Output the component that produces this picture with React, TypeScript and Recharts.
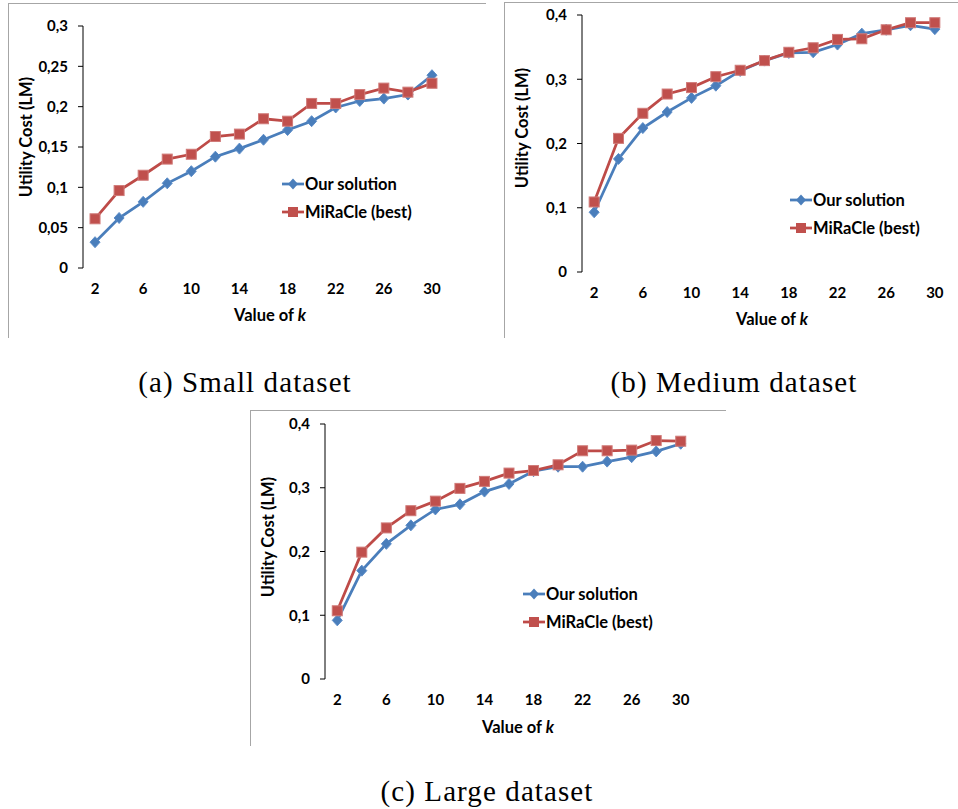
import React from "react";
import { Line, LineChart, XAxis, YAxis } from "recharts";

const kValues = [2, 4, 6, 8, 10, 12, 14, 16, 18, 20, 22, 24, 26, 28, 30];
const kLabelTicks = [2, 6, 10, 14, 18, 22, 26, 30];
const kMarkTicks = [1, 3, 5, 7, 9, 11, 13, 15, 17, 19, 21, 23, 25, 27, 29, 31];

const smallOurs = [0.032, 0.062, 0.082, 0.105, 0.12, 0.138, 0.148, 0.159, 0.171, 0.182, 0.199, 0.207, 0.21, 0.215, 0.239];
const smallMiracle = [0.061, 0.096, 0.115, 0.135, 0.141, 0.163, 0.166, 0.185, 0.182, 0.204, 0.204, 0.215, 0.223, 0.218, 0.229];

const mediumOurs = [0.093, 0.176, 0.224, 0.249, 0.271, 0.29, 0.313, 0.329, 0.341, 0.342, 0.354, 0.371, 0.377, 0.384, 0.378];
const mediumMiracle = [0.109, 0.208, 0.247, 0.277, 0.287, 0.304, 0.314, 0.329, 0.342, 0.349, 0.362, 0.363, 0.377, 0.388, 0.388];

const largeOurs = [0.092, 0.17, 0.212, 0.241, 0.266, 0.274, 0.294, 0.306, 0.326, 0.333, 0.333, 0.341, 0.348, 0.357, 0.369];
const largeMiracle = [0.107, 0.199, 0.237, 0.264, 0.279, 0.299, 0.31, 0.323, 0.327, 0.336, 0.358, 0.358, 0.359, 0.374, 0.373];

const smallYTicks = [0, 0.05, 0.1, 0.15, 0.2, 0.25, 0.3];
const bigYTicks = [0, 0.1, 0.2, 0.3, 0.4];

const BLUE = "#4A7EBB";
const RED = "#BE4B48";
const FONT = "Lato, 'Open Sans', sans-serif";

function formatComma(value: number) {
  return String(value).replace(".", ",");
}

function Diamond(props: any) {
  const { cx, cy, index } = props;
  if (cx == null || cy == null) return null;
  return (
    <path
      key={`dia-${index}`}
      d={`M${cx},${cy - 5.5}L${cx + 5},${cy}L${cx},${cy + 5.5}L${cx - 5},${cy}Z`}
      fill={BLUE}
      stroke="#5B8CC8"
      strokeWidth={1}
    />
  );
}

function Square(props: any) {
  const { cx, cy, index } = props;
  if (cx == null || cy == null) return null;
  return (
    <rect key={`sq-${index}`} x={cx - 5} y={cy - 5} width={10} height={10} fill="#C0504D" stroke="#D07A78" strokeWidth={1} />
  );
}

function LegendBox({ left, top }: { left: number; top: number }) {
  const row = (label: string, color: string, marker: "diamond" | "square") => (
    <div style={{ display: "flex", alignItems: "center", height: 28 }}>
      <svg width={22} height={14} style={{ display: "block" }}>
        <line x1={0} y1={7} x2={22} y2={7} stroke={color} strokeWidth={2.75} />
        {marker === "diamond" ? (
          <path d="M11,1.5L16,7L11,12.5L6,7Z" fill={BLUE} />
        ) : (
          <rect x={6} y={2} width={10} height={10} fill="#C0504D" />
        )}
      </svg>
      <span style={{ marginLeft: 1, fontFamily: FONT, fontWeight: 700, fontSize: 16.5, color: "#000", whiteSpace: "nowrap" }}>{label}</span>
    </div>
  );
  return (
    <div style={{ position: "absolute", left, top }}>
      {row("Our solution", BLUE, "diamond")}
      {row("MiRaCle (best)", RED, "square")}
    </div>
  );
}

type PanelProps = {
  left: number;
  top: number;
  width: number;
  height: number;
  margin: { top: number; right: number };
  yAxisWidth: number;
  xAxisHeight: number;
  yMax: number;
  yTicks: number[];
  ours: number[];
  miracle: number[];
  legendPos: { left: number; top: number };
  yLabelPos: { x: number; y: number };
  xLabelPos: { x: number; y: number };
};

function Panel(p: PanelProps) {
  const data = kValues.map((k, i) => ({ k, ours: p.ours[i], miracle: p.miracle[i] }));
  const tickStyle = { fill: "#000", fontFamily: FONT, fontWeight: 700, fontSize: 15 };
  return (
    <div style={{ position: "absolute", left: p.left, top: p.top, width: p.width, height: p.height }}>
      <LineChart width={p.width} height={p.height} data={data} margin={{ top: p.margin.top, right: p.margin.right, left: 0, bottom: 0 }}>
        <XAxis
          xAxisId="marks"
          dataKey="k"
          type="number"
          domain={[1, 31]}
          ticks={kMarkTicks}
          tick={false}
          tickSize={5}
          height={0}
          stroke="#000"
          tickLine={{ stroke: "#000" }}
        />
        <XAxis
          xAxisId="k"
          dataKey="k"
          type="number"
          domain={[1, 31]}
          ticks={kLabelTicks}
          interval={0}
          axisLine={false}
          tickLine={false}
          tickSize={0}
          tickMargin={15}
          height={p.xAxisHeight}
          tick={tickStyle}
          label={{
            content: () => (
              <text x={p.xLabelPos.x} y={p.xLabelPos.y} textAnchor="middle" dominantBaseline="central" fontFamily={FONT} fontWeight={700} fontSize={16.5} fill="#000">
                Value of <tspan fontStyle="italic">k</tspan>
              </text>
            ),
          }}
        />
        <YAxis
          type="number"
          domain={[0, p.yMax]}
          ticks={p.yTicks}
          interval={0}
          width={p.yAxisWidth}
          tickSize={5}
          tickMargin={10}
          stroke="#000"
          tickLine={{ stroke: "#000" }}
          tickFormatter={formatComma}
          tick={tickStyle}
          label={{
            content: () => (
              <text
                x={p.yLabelPos.x}
                y={p.yLabelPos.y}
                textAnchor="middle"
                dominantBaseline="central"
                transform={`rotate(-90 ${p.yLabelPos.x} ${p.yLabelPos.y})`}
                fontFamily={FONT}
                fontWeight={700}
                fontSize={16.5}
                fill="#000"
              >
                Utility Cost (LM)
              </text>
            ),
          }}
        />
        <Line xAxisId="k" dataKey="ours" stroke={BLUE} strokeWidth={2.75} dot={Diamond} activeDot={false} isAnimationActive={false} />
        <Line xAxisId="k" dataKey="miracle" stroke={RED} strokeWidth={2.75} dot={Square} activeDot={false} isAnimationActive={false} />
      </LineChart>
      <LegendBox left={p.legendPos.left} top={p.legendPos.top} />
    </div>
  );
}

function Frame({ left, top, width, height }: { left: number; top: number; width: number; height: number }) {
  return (
    <div
      style={{
        position: "absolute",
        left,
        top,
        width,
        height,
        borderLeft: "1px solid #A6A6A6",
        borderTop: "1px solid #A6A6A6",
      }}
    />
  );
}

function Caption({ cx, cy, text }: { cx: number; cy: number; text: string }) {
  return (
    <div
      style={{
        position: "absolute",
        left: cx - 200,
        top: cy - 18,
        width: 400,
        height: 36,
        lineHeight: "36px",
        textAlign: "center",
        fontFamily: "'Liberation Serif', serif",
        fontSize: 29,
        letterSpacing: 1.1,
        color: "#000",
        whiteSpace: "nowrap",
      }}
    >
      {text}
    </div>
  );
}

export default function App() {
  return (
    <div style={{ position: "fixed", left: 0, top: 0, width: 958, height: 809, background: "#fff", overflow: "hidden" }}>
      <Frame left={8} top={3} width={477} height={334} />
      <Frame left={504} top={2} width={454} height={335} />
      <Frame left={250} top={410} width={475} height={335} />

      <Panel
        left={8}
        top={3}
        width={475}
        height={335}
        margin={{ top: 23, right: 39 }}
        yAxisWidth={75}
        xAxisHeight={70}
        yMax={0.3}
        yTicks={smallYTicks}
        ours={smallOurs}
        miracle={smallMiracle}
        legendPos={{ left: 274, top: 167 }}
        yLabelPos={{ x: 18, y: 134 }}
        xLabelPos={{ x: 262, y: 312 }}
      />
      <Panel
        left={504}
        top={2}
        width={454}
        height={336}
        margin={{ top: 13, right: 11 }}
        yAxisWidth={78}
        xAxisHeight={66}
        yMax={0.4}
        yTicks={bigYTicks}
        ours={mediumOurs}
        miracle={mediumMiracle}
        legendPos={{ left: 286, top: 184 }}
        yLabelPos={{ x: 18, y: 126 }}
        xLabelPos={{ x: 268, y: 317 }}
      />
      <Panel
        left={250}
        top={410}
        width={475}
        height={335}
        margin={{ top: 14, right: 32 }}
        yAxisWidth={75}
        xAxisHeight={66}
        yMax={0.4}
        yTicks={bigYTicks}
        ours={largeOurs}
        miracle={largeMiracle}
        legendPos={{ left: 273, top: 170 }}
        yLabelPos={{ x: 18, y: 127 }}
        xLabelPos={{ x: 268, y: 317 }}
      />

      <Caption cx={245} cy={382} text="(a) Small dataset" />
      <Caption cx={734} cy={382} text="(b) Medium dataset" />
      <Caption cx={487} cy={791} text="(c) Large dataset" />
    </div>
  );
}
